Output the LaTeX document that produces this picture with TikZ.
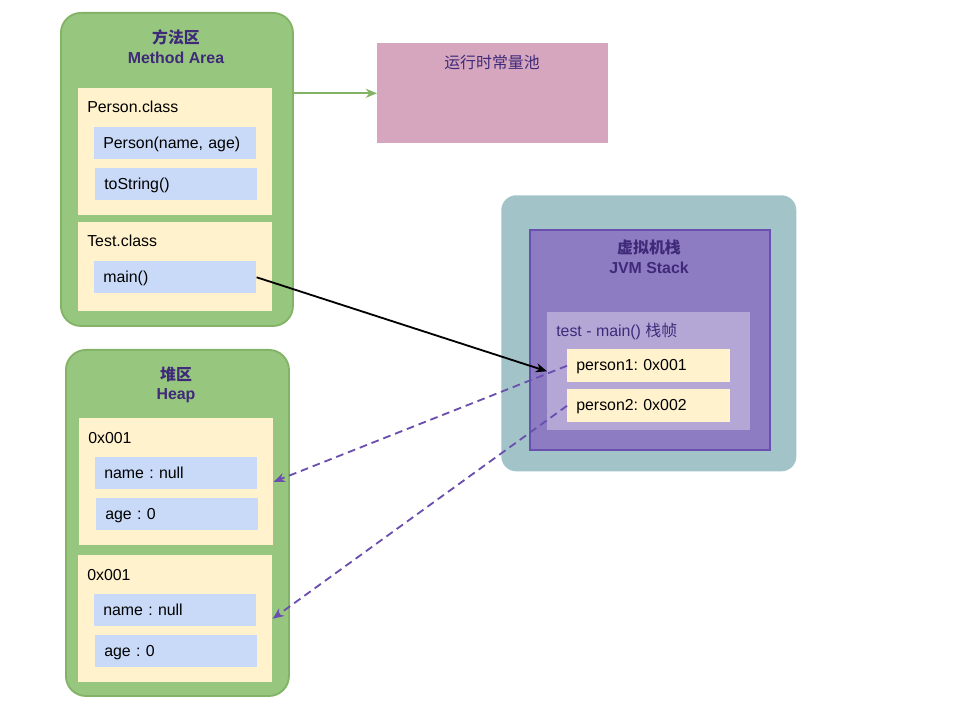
\documentclass[tikz,border=0pt]{standalone}
\usepackage{fontspec}
\setmainfont{Liberation Sans}
\newfontfamily\cjk{Noto Sans CJK SC}
\usepackage{tikz}
\usetikzlibrary{arrows.meta,calc}
\definecolor{areafill}{HTML}{97C67E}
\definecolor{areaedge}{HTML}{82B366}
\definecolor{clsfill}{HTML}{FFF2CC}
\definecolor{fieldfill}{HTML}{C9DAF8}
\definecolor{poolfill}{HTML}{D5A6BD}
\definecolor{stackbg}{HTML}{A2C4C9}
\definecolor{stackfill}{HTML}{8E7CC3}
\definecolor{stackedge}{HTML}{6750AE}
\definecolor{framefill}{HTML}{B4A7D6}
\definecolor{titletext}{HTML}{3F2A7A}
\definecolor{refline}{HTML}{6A4FAE}
\frenchspacing

\begin{document}
\begin{tikzpicture}[x=0.025cm, y=-0.025cm, font=\fontsize{11.3}{14}\selectfont,
		area/.style={draw=areaedge, fill=areafill, line width=1.3pt, rounded corners=0.5cm, anchor=north west, inner sep=0pt},
		cls/.style={fill=clsfill, anchor=north west, inner sep=0pt, minimum width=4.85cm},
		field/.style={fill=fieldfill, anchor=north west, inner xsep=0.225cm, inner ysep=0pt, minimum height=0.8cm, text width=3.6cm, align=left, text depth=1pt},
		title/.style={text=titletext, font=\fontsize{11.3}{14}\selectfont\bfseries, align=center},
		tip/.style={-{Stealth[length=8pt, width=6.5pt, inset=2.5pt]}},
		ref/.style={tip, draw=refline, line width=1.3pt, dash pattern=on 5.5pt off 3.5pt}]
		\useasboundingbox (0,0) rectangle (960,720);
		\node[area, minimum width=5.8cm, minimum height=7.825cm] (method) at (60,12) {};
		\node[title] (methodtitle) at (176,47) {{\cjk 方法区}\\Method Area};
		\node[cls, minimum height=3.175cm] (personcls) at (78,88) {};
		\node[anchor=west, inner sep=0pt] (personlbl) at (87,107) {Person.class};
		\node[field] (ctor) at (94,127) {Person(name, age)};
		\node[field] (tostr) at (95,168) {toString()};
		\node[cls, minimum height=2.225cm] (testcls) at (78,222) {};
		\node[anchor=west, inner sep=0pt] (testlbl) at (87,241) {Test.class};
		\node[field] (mainm) at (94,261) {main()};
		\node[fill=poolfill, anchor=north west, minimum width=5.775cm, minimum height=2.5cm, inner sep=0pt] (pool) at (377,43) {};
		\node[text=titletext] (pooltxt) at (492,62) {\cjk 运行时常量池};
		\node[fill=stackbg, rounded corners=0.375cm, anchor=north west, minimum width=7.375cm, minimum height=6.9cm, inner sep=0pt] (stackbg) at (501,195) {};
		\node[draw=stackedge, fill=stackfill, line width=1.3pt, anchor=north west, minimum width=6cm, minimum height=5.5cm, inner sep=0pt] (stack) at (529,229) {};
		\node[title] (stacktitle) at (649,257) {{\cjk 虚拟机栈}\\JVM Stack};
		\node[fill=framefill, anchor=north west, minimum width=5.075cm, minimum height=2.95cm, inner sep=0pt] (frame) at (547,312) {};
		\node[anchor=west, inner sep=0pt, text=titletext] (framelbl) at (556,331) {test - main() {\cjk 栈帧}};
		\node[field, fill=clsfill, minimum height=0.825cm, text width=3.625cm] (p1) at (567,349) {person1: 0x001};
		\node[field, fill=clsfill, minimum height=0.825cm, text width=3.625cm] (p2) at (567,389) {person2: 0x002};
		\node[area, minimum width=5.575cm, minimum height=8.65cm] (heap) at (65,349) {};
		\node[title] (heaptitle) at (176,385) {{\cjk 堆区}\\Heap};
		\foreach \i/\x/\y in {1/79/418, 2/78/555}{
			\node[cls, minimum height=3.175cm] (obj\i) at (\x,\y) {};
			\node[anchor=west, inner sep=0pt] (addr\i) at (\x+9,\y+20) {0x001};
			\node[field] (name\i) at (\x+16,\y+39) {name : null};
			\node[field] (age\i) at (\x+17,\y+80) {age : 0};
		}
		\draw[tip, draw=areaedge, fill=areaedge, line width=1.3pt] (method.east |- pool.west) -- (pool.west);
		\draw[tip, line width=1.3pt] (mainm.east) -- (frame.west);
		\draw[ref] (p1.west) -- (obj1.east);
		\draw[ref] (p2.west) -- (obj2.east);
	\end{tikzpicture}
\end{document}
